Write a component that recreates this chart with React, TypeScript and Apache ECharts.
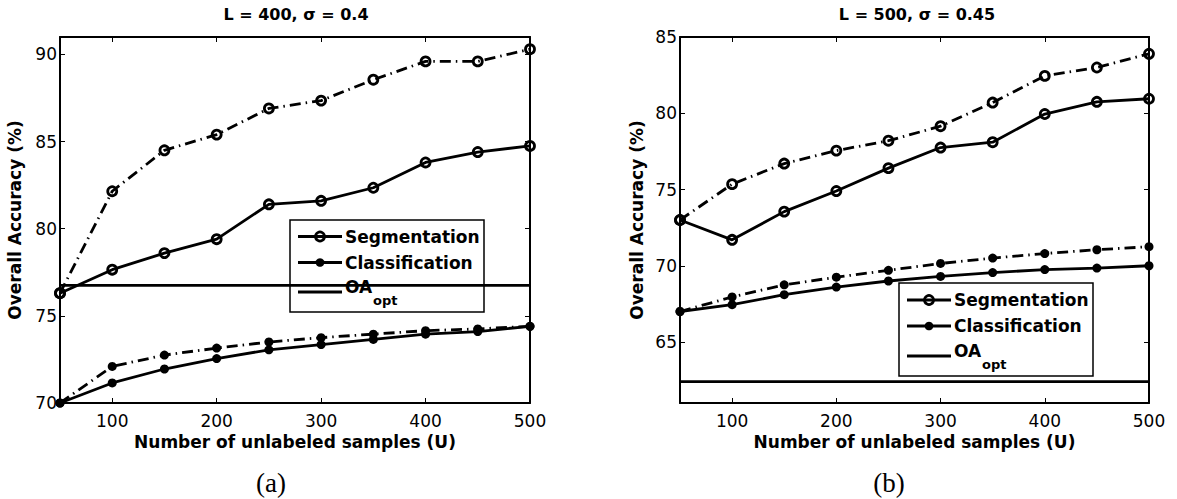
import React, { useEffect, useRef } from "react";
import * as echarts from "echarts";

// ---- data ----
const U = [50, 100, 150, 200, 250, 300, 350, 400, 450, 500];
const xTicks = [100, 200, 300, 400, 500];

// (a) L = 400, sigma = 0.4
const segA = [76.3, 77.65, 78.6, 79.4, 81.4, 81.6, 82.35, 83.8, 84.4, 84.75];
const segDashA = [76.3, 82.15, 84.5, 85.4, 86.9, 87.35, 88.55, 89.6, 89.6, 90.3];
const clsA = [70, 71.15, 71.95, 72.55, 73.05, 73.35, 73.65, 73.95, 74.1, 74.4];
const clsDashA = [70, 72.1, 72.75, 73.15, 73.5, 73.75, 73.95, 74.15, 74.25, 74.4];
const oaA = 76.75;
const yTicksA = [70, 75, 80, 85, 90];

// (b) L = 500, sigma = 0.45
const segB = [73.0, 71.7, 73.55, 74.9, 76.4, 77.75, 78.1, 79.95, 80.75, 80.95];
const segDashB = [73.0, 75.35, 76.7, 77.55, 78.2, 79.15, 80.7, 82.45, 83.0, 83.9];
const clsB = [67.0, 67.45, 68.1, 68.6, 69.0, 69.3, 69.55, 69.75, 69.85, 70.0];
const clsDashB = [67.0, 67.95, 68.75, 69.25, 69.7, 70.15, 70.5, 70.8, 71.05, 71.25];
const oaB = 62.4;
const yTicksB = [65, 70, 75, 80, 85];

const titles = ["L = 400, \u03c3 = 0.4", "L = 500, \u03c3 = 0.45"];
const captions = ["(a)", "(b)"];
const legendNames = ["Segmentation", "Classification", "OA"];
const xName = "Number of unlabeled samples (U)";
const yName = "Overall Accuracy (%)";

const SANS = "DejaVu Sans";
const DASHDOT = [11, 5, 1.5, 5];
const LW = 2.8;

export default function App() {
  const ref = useRef<HTMLDivElement>(null);
  useEffect(() => {
    if (!ref.current) return;
    const chart = echarts.init(ref.current, null, { renderer: "svg" });

    const grids = [
      { left: 60, top: 37, width: 470, height: 366 },
      { left: 680, top: 37, width: 469, height: 366 },
    ];
    const yRanges = [
      [70, 91],
      [61, 85],
    ];
    const yTickSets = [yTicksA, yTicksB];
    const nameGaps = [37, 35];

    const xAxes: any[] = [];
    const yAxes: any[] = [];
    grids.forEach((g, gi) => {
      xAxes.push({
        gridIndex: gi,
        type: "value",
        min: 50,
        max: 500,
        position: "bottom",
        axisLine: { onZero: false, lineStyle: { color: "#000", width: 2 } },
        axisTick: { inside: true, length: 5, customValues: xTicks, lineStyle: { color: "#000", width: 1 } },
        axisLabel: { customValues: xTicks, color: "#000", fontSize: 17, fontFamily: SANS, margin: 9 },
        splitLine: { show: false },
        name: xName,
        nameLocation: "middle",
        nameGap: 30,
        nameTextStyle: { color: "#000", fontSize: 17, fontWeight: "bold", fontFamily: SANS },
      });
      xAxes.push({
        gridIndex: gi,
        type: "value",
        min: 50,
        max: 500,
        position: "top",
        axisLine: { onZero: false, lineStyle: { color: "#000", width: 2 } },
        axisTick: { inside: true, length: 5, customValues: xTicks, lineStyle: { color: "#000", width: 1 } },
        axisLabel: { show: false },
        splitLine: { show: false },
      });
      yAxes.push({
        gridIndex: gi,
        type: "value",
        min: yRanges[gi][0],
        max: yRanges[gi][1],
        position: "left",
        axisLine: { onZero: false, lineStyle: { color: "#000", width: 2 } },
        axisTick: { inside: true, length: 5, customValues: yTickSets[gi], lineStyle: { color: "#000", width: 1 } },
        axisLabel: { customValues: yTickSets[gi], color: "#000", fontSize: 17, fontFamily: SANS, margin: 3 },
        splitLine: { show: false },
        name: yName,
        nameLocation: "middle",
        nameGap: nameGaps[gi],
        nameTextStyle: { color: "#000", fontSize: 17, fontWeight: "bold", fontFamily: SANS },
      });
      yAxes.push({
        gridIndex: gi,
        type: "value",
        min: yRanges[gi][0],
        max: yRanges[gi][1],
        position: "right",
        axisLine: { onZero: false, lineStyle: { color: "#000", width: 2 } },
        axisTick: { inside: true, length: 5, customValues: yTickSets[gi], lineStyle: { color: "#000", width: 1 } },
        axisLabel: { show: false },
        splitLine: { show: false },
      });
    });

    const pts = (arr: number[]) => U.map((x, i) => [x, arr[i]]);
    const segStyle = {
      symbol: "circle",
      symbolSize: 9,
      itemStyle: { color: "rgba(0,0,0,0)", borderColor: "#000", borderWidth: 2.8 },
    };
    const clsStyle = {
      symbol: "circle",
      symbolSize: 9,
      itemStyle: { color: "#000", borderColor: "#000", borderWidth: 0 },
    };

    const sets = [
      { seg: segA, segD: segDashA, cls: clsA, clsD: clsDashA, oa: oaA },
      { seg: segB, segD: segDashB, cls: clsB, clsD: clsDashB, oa: oaB },
    ];
    const series: any[] = [];
    sets.forEach((s, gi) => {
      const ax = { xAxisIndex: gi * 2, yAxisIndex: gi * 2, clip: false, silent: true };
      series.push({
        ...ax, type: "line", name: "OA_opt", data: [[50, s.oa], [500, s.oa]], symbol: "none",
        lineStyle: { color: "#000", width: LW },
      });
      series.push({
        ...ax, type: "line", name: "Classification (dash-dot)", data: pts(s.clsD), ...clsStyle,
        lineStyle: { color: "#000", width: LW, type: DASHDOT },
      });
      series.push({
        ...ax, type: "line", name: "Classification", data: pts(s.cls), ...clsStyle,
        lineStyle: { color: "#000", width: LW, type: "solid" },
      });
      series.push({
        ...ax, type: "line", name: "Segmentation (dash-dot)", data: pts(s.segD), ...segStyle,
        lineStyle: { color: "#000", width: LW, type: DASHDOT },
      });
      series.push({
        ...ax, type: "line", name: "Segmentation", data: pts(s.seg), ...segStyle,
        lineStyle: { color: "#000", width: LW, type: "solid" },
      });
    });

    // legends (drawn boxes)
    const legendBoxes = [
      { x: 290, y: 220, w: 194, h: 92, rows: [16.5, 42.5, 72] },
      { x: 899, y: 283, w: 194, h: 93, rows: [17, 43, 73] },
    ];
    const graphics: any[] = [];
    legendBoxes.forEach((b) => {
      const children: any[] = [];
      children.push({
        type: "rect", shape: { x: 0, y: 0, width: b.w, height: b.h },
        style: { fill: "#fff", stroke: "#000", lineWidth: 1.5 },
      });
      b.rows.forEach((ry, ri) => {
        children.push({
          type: "line", shape: { x1: 8, y1: ry, x2: 52, y2: ry },
          style: { stroke: "#000", lineWidth: LW },
        });
        if (ri === 0) {
          children.push({
            type: "circle", shape: { cx: 30, cy: ry, r: 4.5 },
            style: { fill: "rgba(0,0,0,0)", stroke: "#000", lineWidth: 2.8 },
          });
        } else if (ri === 1) {
          children.push({
            type: "circle", shape: { cx: 30, cy: ry, r: 4.3 },
            style: { fill: "#000" },
          });
        }
        if (ri < 2) {
          children.push({
            type: "text", x: 55, y: ry,
            style: { text: legendNames[ri], fill: "#000", font: `bold 17px "${SANS}"`, verticalAlign: "middle", align: "left" },
          });
        } else {
          children.push({
            type: "text", x: 55, y: ry - 5,
            style: { text: legendNames[2], fill: "#000", font: `bold 17px "${SANS}"`, verticalAlign: "middle", align: "left" },
          });
          children.push({
            type: "text", x: 83, y: ry + 8,
            style: { text: "opt", fill: "#000", font: `bold 13px "${SANS}"`, verticalAlign: "middle", align: "left" },
          });
        }
      });
      graphics.push({ type: "group", x: b.x, y: b.y, children, z: 100 });
    });

    const titleX = [296, 917];
    titleX.forEach((tx, i) => {
      graphics.push({
        type: "text", x: tx, y: 14.5,
        style: { text: titles[i], fill: "#000", font: `bold 16px "${SANS}"`, align: "center", verticalAlign: "middle" },
      });
    });
    const capX = [271, 889];
    capX.forEach((cx, i) => {
      graphics.push({
        type: "text", x: cx, y: 483,
        style: { text: captions[i], fill: "#000", font: `27px "Liberation Serif"`, align: "center", verticalAlign: "middle" },
      });
    });

    chart.setOption({
      animation: false,
      backgroundColor: "#fff",
      grid: grids,
      xAxis: xAxes,
      yAxis: yAxes,
      series,
      graphic: graphics,
    });
    return () => chart.dispose();
  }, []);
  return (
    <div
      ref={ref}
      style={{ position: "absolute", left: 0, top: 0, width: 1177, height: 499, background: "#fff" }}
    />
  );
}
